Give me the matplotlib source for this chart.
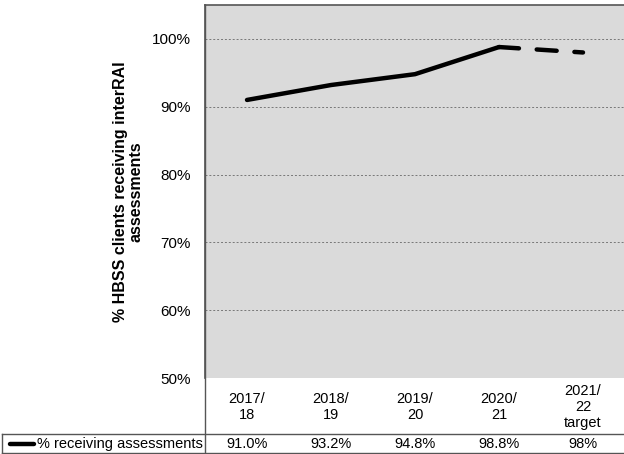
import matplotlib.pyplot as plt
from matplotlib.lines import Line2D
from matplotlib.transforms import blended_transform_factory

plt.rcParams['font.family'] = ['Liberation Sans', 'DejaVu Sans']

categories = ['2017/\n18', '2018/\n19', '2019/\n20', '2020/\n21', '2021/\n22\ntarget']
values = [91.0, 93.2, 94.8, 98.8, 98.0]
value_labels = ['91.0%', '93.2%', '94.8%', '98.8%', '98%']
series_name = '% receiving assessments'
y_ticks = [50, 60, 70, 80, 90, 100]

W, H = 624, 454
fig = plt.figure(figsize=(W / 100, H / 100), dpi=100)
fig.patch.set_facecolor('white')


def fx(px):
    return px / W


def fy(py):
    return 1 - py / H


ax = fig.add_axes([fx(205), fy(378), fx(625) - fx(205), fy(5) - fy(378)])
ax.set_facecolor('#dadada')
ax.set_xlim(-0.5, 4.5)
ax.set_ylim(50, 105)

for v in y_ticks[1:]:
    ax.axhline(v, color='#777777', linestyle=(0, (2, 2)), linewidth=0.7, zorder=1)

x = list(range(len(values)))
# actuals solid, target year dashed
ax.plot(x[:4], values[:4], color='black', linewidth=3.2, solid_capstyle='round', zorder=3)
ax.plot(x[3:], values[3:], color='black', linewidth=3.2, linestyle=(0, (4.5, 4)),
        dash_capstyle='round', zorder=3)

ax.set_xticks([])
ax.set_yticks(y_ticks)
ax.set_yticklabels([f'{v}%' for v in y_ticks], fontsize=11)
ax.tick_params(axis='y', length=0, pad=10)
for s in ['right', 'bottom']:
    ax.spines[s].set_visible(False)
for s in ['top', 'left']:
    ax.spines[s].set_color('#555555')
    ax.spines[s].set_linewidth(1.2)

ax.set_ylabel('% HBSS clients receiving interRAI\nassessments', fontsize=11.5,
              fontweight='bold', labelpad=6, linespacing=1.05)

# category labels below the plot area
trans = blended_transform_factory(ax.transData, fig.transFigure)
for i, c in enumerate(categories):
    ax.text(i, fy(407), c, transform=trans, ha='center', va='center',
            fontsize=10.5, linespacing=1.2)

# data table row
for i, lbl in enumerate(value_labels):
    ax.text(i, fy(444), lbl, transform=trans, ha='center', va='center', fontsize=10.5)
fig.text(fx(37), fy(444), series_name, ha='left', va='center', fontsize=10.5)
fig.add_artist(Line2D([fx(10), fx(34)], [fy(444), fy(444)], color='black', linewidth=3.2,
                      solid_capstyle='round'))

grid_kw = dict(color='#555555', linewidth=1.0)
fig.add_artist(Line2D([fx(205), fx(205)], [fy(5), fy(453)], **grid_kw))
fig.add_artist(Line2D([fx(2), fx(624)], [fy(434), fy(434)], **grid_kw))
fig.add_artist(Line2D([fx(2), fx(624)], [fy(453), fy(453)], **grid_kw))
fig.add_artist(Line2D([fx(2), fx(2)], [fy(434), fy(453)], **grid_kw))

fig.savefig('out.png', dpi=100, facecolor='white')
